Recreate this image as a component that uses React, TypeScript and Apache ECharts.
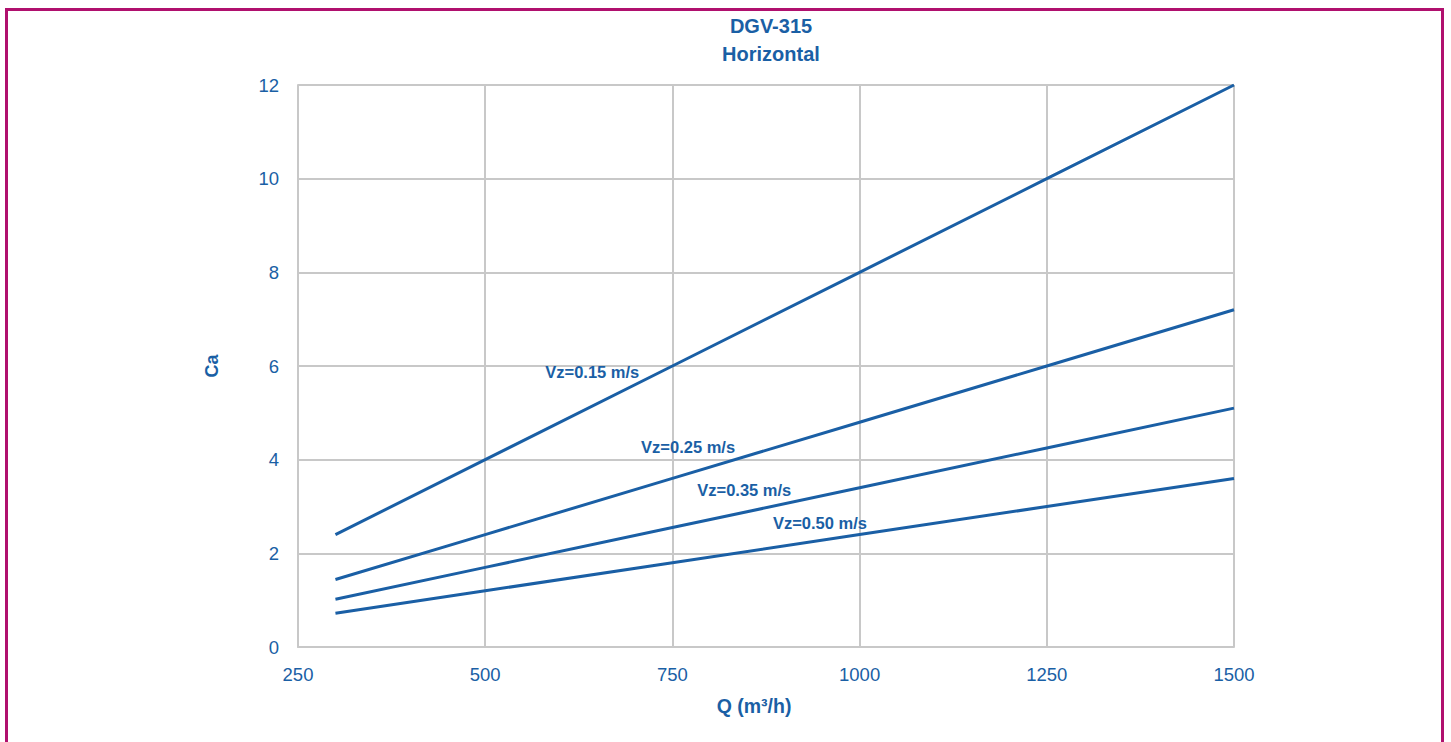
import React, { useEffect, useRef } from "react";
import * as echarts from "echarts";

const qValues = [300, 500, 750, 1000, 1250, 1500];
const ca015 = [2.4, 4.0, 6.0, 8.0, 10.0, 12.0];
const ca025 = [1.44, 2.4, 3.6, 4.8, 6.0, 7.2];
const ca035 = [1.02, 1.7, 2.55, 3.4, 4.25, 5.1];
const ca050 = [0.72, 1.2, 1.8, 2.4, 3.0, 3.6];
const seriesNames = ["Vz=0.15 m/s", "Vz=0.25 m/s", "Vz=0.35 m/s", "Vz=0.50 m/s"];
const labelCoords: [number, number][] = [
  [643, 5.87],
  [771, 4.27],
  [846, 3.35],
  [947, 2.65],
];

const BLUE = "#1a5fa5";
const FONT = "'Liberation Sans', Arial, sans-serif";

export default function App() {
  const ref = useRef<HTMLDivElement>(null);
  useEffect(() => {
    if (!ref.current) return;
    const chart = echarts.init(ref.current, undefined, { renderer: "svg" });
    const all = [ca015, ca025, ca035, ca050];
    chart.setOption({
      animation: false,
      backgroundColor: "#ffffff",
      textStyle: { fontFamily: FONT },
      title: {
        text: "DGV-315\nHorizontal",
        left: 766,
        textAlign: "center",
        top: 7,
        textStyle: {
          color: BLUE,
          fontSize: 20,
          fontWeight: "bold",
          lineHeight: 28,
          fontFamily: FONT,
        },
      },
      graphic: [
        {
          type: "rect",
          shape: { x: 6.5, y: 9.5, width: 1436, height: 800 },
          style: { fill: "none", stroke: "#b0106e", lineWidth: 3 },
          silent: true,
        },
      ],
      grid: { left: 298, right: 217, top: 85, bottom: 95, show: false },
      xAxis: {
        type: "value",
        min: 250,
        max: 1500,
        interval: 250,
        name: "Q (m³/h)",
        nameLocation: "middle",
        nameGap: 49,
        nameTextStyle: {
          color: BLUE,
          fontSize: 19.5,
          fontWeight: "bold",
          fontFamily: FONT,
          padding: [0, 24, 0, 0],
        },
        axisLine: { show: true, lineStyle: { color: "#c8c8c8", width: 2 } },
        axisTick: { show: false },
        axisLabel: {
          color: BLUE,
          fontSize: 18.5,
          margin: 18,
          fontFamily: FONT,
          formatter: (v: number) => String(v),
        },
        splitLine: { show: true, lineStyle: { color: "#c8c8c8", width: 2 } },
      },
      yAxis: {
        type: "value",
        min: 0,
        max: 12,
        interval: 2,
        name: "Ca",
        nameLocation: "middle",
        nameGap: 77,
        nameRotate: 90,
        nameTextStyle: { color: BLUE, fontSize: 18, fontWeight: "bold", fontFamily: FONT },
        axisLine: { show: true, lineStyle: { color: "#c8c8c8", width: 2 } },
        axisTick: { show: false },
        axisLabel: {
          color: BLUE,
          fontSize: 18.5,
          margin: 19,
          fontFamily: FONT,
          formatter: (v: number) => String(v),
        },
        splitLine: { show: true, lineStyle: { color: "#c8c8c8", width: 2 } },
      },
      series: all.map((vals, i) => ({
        type: "line",
        name: seriesNames[i],
        data: qValues.map((q, j) => [q, vals[j]]),
        symbol: "none",
        lineStyle: { color: BLUE, width: 3 },
        markPoint: {
          symbol: "circle",
          symbolSize: 0,
          silent: true,
          data: [
            {
              coord: labelCoords[i],
              label: {
                show: true,
                formatter: seriesNames[i],
                position: "inside",
                color: BLUE,
                fontSize: 16.5,
                fontWeight: "bold",
                fontFamily: FONT,
              },
            },
          ],
        },
      })),
    });
    return () => chart.dispose();
  }, []);
  return (
    <div
      ref={ref}
      style={{ position: "fixed", left: 0, top: 0, width: 1451, height: 742 }}
    />
  );
}
